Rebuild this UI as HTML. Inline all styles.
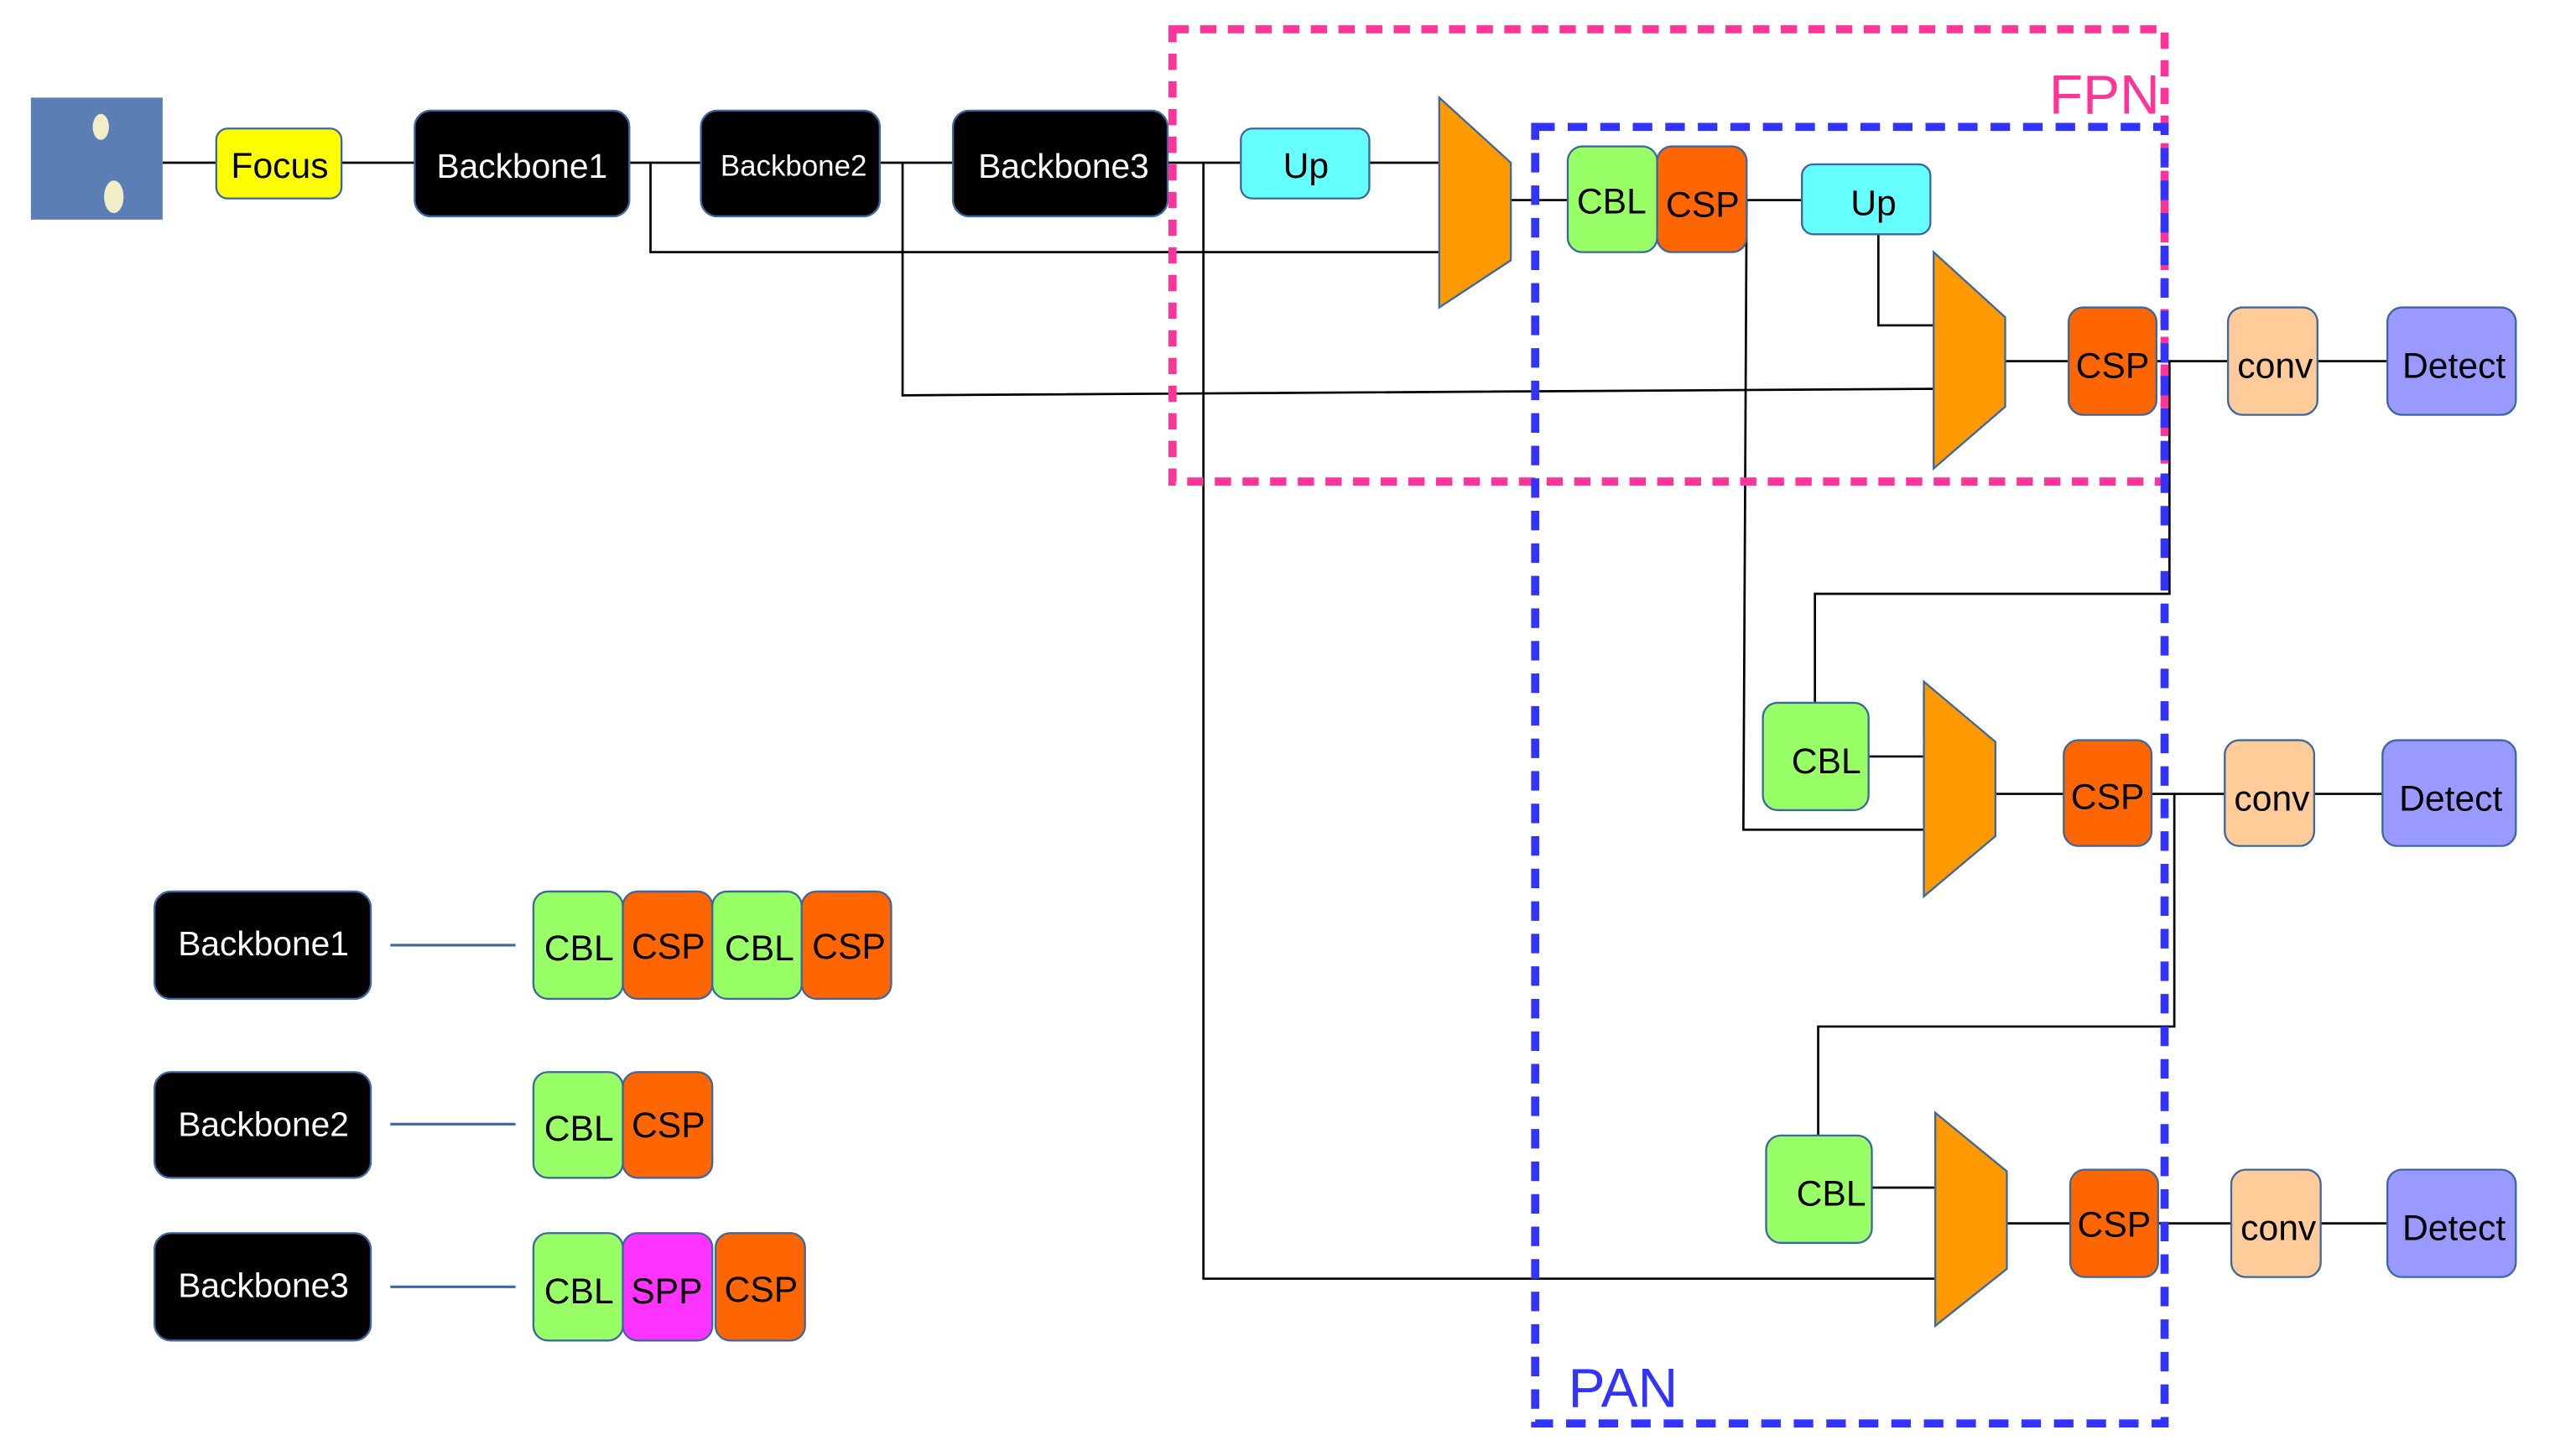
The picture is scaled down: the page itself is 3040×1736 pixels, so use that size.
<!DOCTYPE html>
<html><head><meta charset="utf-8"><style>
html,body{margin:0;padding:0;background:#fff;}
svg{display:block;}
text{font-family:"Liberation Sans",sans-serif;dominant-baseline:central;text-anchor:middle;}
</style></head><body>
<svg width="3040" height="1736" viewBox="0 0 1568 895" preserveAspectRatio="none" xmlns="http://www.w3.org/2000/svg">
<g stroke="#000" stroke-width="1.4" fill="none">
<path d="M100 100H133M210 100H255M387 100H431M541 100H586M718 100H763M842 100H885"/>
<path d="M400 100V155H885"/>
<path d="M555 100V243L1189 239"/>
<path d="M740 100V786H1190"/>
<path d="M929 123H964M1074 123H1108"/>
<path d="M1074 123L1072 510H1185"/>
<path d="M1155 144V200H1189"/>
<path d="M1233 222H1272M1326 222H1370M1425 222H1468"/>
<path d="M1334 222V365H1116V432"/>
<path d="M1149 465H1183M1227 488H1269M1323 488H1368M1423 488H1465"/>
<path d="M1337 488V631H1118V698"/>
<path d="M1151 730H1190M1234 752H1273M1327 752H1372M1427 752H1468"/>
</g>
<rect x="19" y="60" width="81" height="75" fill="#5b7fb5"/>
<ellipse cx="62" cy="78" rx="5" ry="8" fill="#f2ecc8"/>
<ellipse cx="70" cy="121" rx="6" ry="10" fill="#f2ecc8"/>
<g stroke="#3b67a3" stroke-width="1.2">
<rect x="133" y="79" width="77" height="43" rx="7" fill="#ffff00"/>
<rect x="255" y="68" width="132" height="65" rx="10" fill="#000"/>
<rect x="431" y="68" width="110" height="65" rx="10" fill="#000"/>
<rect x="586" y="68" width="132" height="65" rx="10" fill="#000"/>
<rect x="763" y="79" width="79" height="43" rx="7" fill="#66ffff"/>
<rect x="964" y="90" width="55" height="65" rx="9" fill="#99ff66"/>
<rect x="1019" y="90" width="55" height="65" rx="9" fill="#ff6600"/>
<rect x="1108" y="101" width="79" height="43" rx="7" fill="#66ffff"/>
<rect x="1272" y="189" width="54" height="66" rx="9" fill="#ff6600"/>
<rect x="1370" y="189" width="55" height="66" rx="9" fill="#ffcc99"/>
<rect x="1468" y="189" width="79" height="66" rx="9" fill="#9999ff"/>
<rect x="1084" y="432" width="65" height="66" rx="9" fill="#99ff66"/>
<rect x="1269" y="455" width="54" height="65" rx="9" fill="#ff6600"/>
<rect x="1368" y="455" width="55" height="65" rx="9" fill="#ffcc99"/>
<rect x="1465" y="455" width="82" height="65" rx="9" fill="#9999ff"/>
<rect x="1086" y="698" width="65" height="66" rx="9" fill="#99ff66"/>
<rect x="1273" y="719" width="54" height="66" rx="9" fill="#ff6600"/>
<rect x="1372" y="719" width="55" height="66" rx="9" fill="#ffcc99"/>
<rect x="1468" y="719" width="79" height="66" rx="9" fill="#9999ff"/>
<polygon points="885,60 929,100 929,160 885,189" fill="#ff9900"/>
<polygon points="1189,155 1233,195 1233,250 1189,288" fill="#ff9900"/>
<polygon points="1183,419 1227,456 1227,514 1183,551" fill="#ff9900"/>
<polygon points="1190,684 1234,720 1234,780 1190,815" fill="#ff9900"/>
<rect x="95" y="548" width="133" height="66" rx="10" fill="#000"/>
<rect x="95" y="659" width="133" height="65" rx="10" fill="#000"/>
<rect x="95" y="758" width="133" height="66" rx="10" fill="#000"/>
<rect x="328" y="548" width="55" height="66" rx="9" fill="#99ff66"/>
<rect x="383" y="548" width="55" height="66" rx="9" fill="#ff6600"/>
<rect x="438" y="548" width="55" height="66" rx="9" fill="#99ff66"/>
<rect x="493" y="548" width="55" height="66" rx="9" fill="#ff6600"/>
<rect x="328" y="659" width="55" height="65" rx="9" fill="#99ff66"/>
<rect x="383" y="659" width="55" height="65" rx="9" fill="#ff6600"/>
<rect x="328" y="758" width="55" height="66" rx="9" fill="#99ff66"/>
<rect x="383" y="758" width="55" height="66" rx="9" fill="#ff33ff"/>
<rect x="440" y="758" width="55" height="66" rx="9" fill="#ff6600"/>
</g>
<g stroke="#3b67a3" stroke-width="1.6"><path d="M240 581H317M240 691H317M240 791H317"/></g>
<rect x="721" y="18" width="610" height="278" fill="none" stroke="#ff3399" stroke-width="5" stroke-dasharray="10 7"/>
<rect x="944" y="78" width="387" height="797" fill="none" stroke="#3333ff" stroke-width="5" stroke-dasharray="12 8"/>
<text x="1294" y="58" font-size="34" fill="#ff3399">FPN</text>
<text x="998" y="853" font-size="34" fill="#3333ff">PAN</text>
<g font-size="22" fill="#000">
<text x="172" y="102">Focus</text>
<text x="803" y="102">Up</text>
<text x="991" y="124">CBL</text><text x="1047" y="126">CSP</text>
<text x="1152" y="125">Up</text>
<text x="1299" y="225">CSP</text><text x="1399" y="225">conv</text><text x="1509" y="225">Detect</text>
<text x="1123" y="468">CBL</text><text x="1296" y="490">CSP</text><text x="1397" y="491">conv</text><text x="1507" y="491">Detect</text>
<text x="1126" y="734">CBL</text><text x="1300" y="753">CSP</text><text x="1401" y="755">conv</text><text x="1509" y="755">Detect</text>
<text x="356" y="583">CBL</text><text x="411" y="582">CSP</text><text x="467" y="583">CBL</text><text x="522" y="582">CSP</text>
<text x="356" y="694">CBL</text><text x="411" y="692">CSP</text>
<text x="356" y="794">CBL</text><text x="410" y="794">SPP</text><text x="468" y="793">CSP</text>
</g>
<g font-size="21" fill="#fff">
<text x="321" y="102">Backbone1</text>
<text x="488" y="102" font-size="18">Backbone2</text>
<text x="654" y="102">Backbone3</text>
<text x="162" y="580">Backbone1</text>
<text x="162" y="691">Backbone2</text>
<text x="162" y="790">Backbone3</text>
</g>
</svg>
</body></html>
